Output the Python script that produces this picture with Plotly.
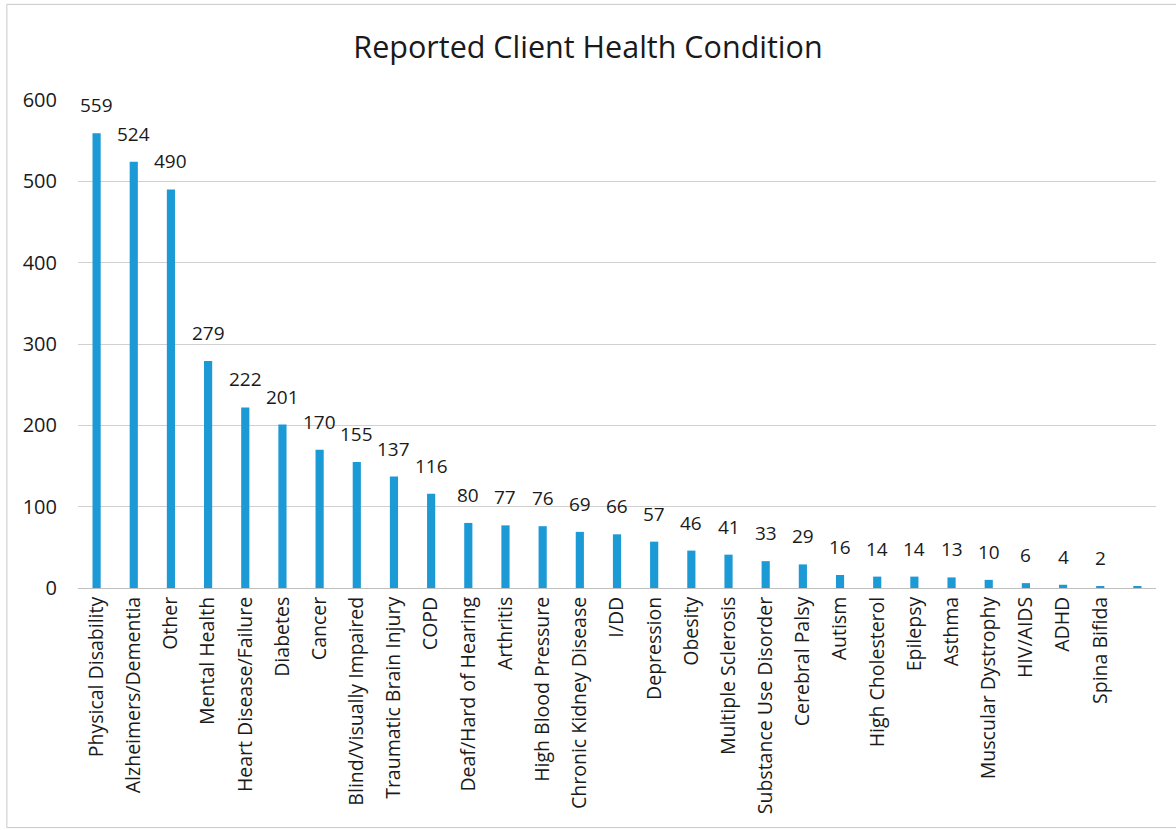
import plotly.graph_objects as go

# Reported client health conditions, sorted by count
conditions = [
    "Physical Disability", "Alzheimers/Dementia", "Other", "Mental Health",
    "Heart Disease/Failure", "Diabetes", "Cancer", "Blind/Visually Impaired",
    "Traumatic Brain Injury", "COPD", "Deaf/Hard of Hearing", "Arthritis",
    "High Blood Pressure", "Chronic Kidney Disease", "I/DD", "Depression",
    "Obesity", "Multiple Sclerosis", "Substance Use Disorder", "Cerebral Palsy",
    "Autism", "High Cholesterol", "Epilepsy", "Asthma", "Muscular Dystrophy",
    "HIV/AIDS", "ADHD", "Spina Bifida", " ",
]
counts = [
    559, 524, 490, 279, 222, 201, 170, 155, 137, 116, 80, 77, 76, 69, 66, 57,
    46, 41, 33, 29, 16, 14, 14, 13, 10, 6, 4, 2, 2,
]
# the final, unnamed category carries no data label
labels = [str(v) for v in counts[:-1]] + [""]

y_ticks = [0, 100, 200, 300, 400, 500, 600]

FONT = "Open Sans, Noto Sans, sans-serif"
TEXT = "#1a1a1a"

fig = go.Figure(
    go.Bar(
        x=conditions,
        y=counts,
        marker=dict(color="#1c9ad6", line=dict(width=0)),
        hoverinfo="x+y",
    )
)

# value labels floating above each bar
annotations = [
    dict(x=c, y=v, xref="x", yref="y", text=t, showarrow=False,
         yanchor="middle", yshift=28,
         font=dict(family=FONT, size=19, color=TEXT))
    for c, v, t in zip(conditions, counts, labels) if t
]

fig.update_layout(
    width=1176,
    height=830,
    paper_bgcolor="white",
    plot_bgcolor="white",
    margin=dict(l=78, r=20, t=100, b=242),
    bargap=0.78,
    showlegend=False,
    annotations=annotations,
    title=dict(
        text="Reported Client Health Condition",
        x=0.5,
        xanchor="center",
        y=0.943,
        yanchor="middle",
        font=dict(family=FONT, size=30.5, color="#1a1a1a"),
    ),
    shapes=[
        # outer chart frame
        dict(type="rect", xref="paper", yref="paper",
             x0=-0.066, x1=1.1, y0=-0.491, y1=1.196,
             line=dict(color="#c8c8c8", width=1), layer="below"),
    ],
)

fig.update_xaxes(
    type="category",
    tickangle=-90,
    tickfont=dict(family=FONT, size=19.5, color=TEXT),
    showgrid=False,
    showline=True,
    linecolor="#bfbfbf",
    linewidth=1,
    ticks="",
)
fig.update_yaxes(
    range=[0, 600],
    tickvals=y_ticks,
    ticktext=[str(t) for t in y_ticks],
    tickfont=dict(family=FONT, size=20, color=TEXT),
    showgrid=True,
    gridcolor="#d0d0d0",
    gridwidth=1,
    zeroline=False,
    showline=False,
    ticks="",
    ticklabelstandoff=20,
)

fig.write_html("out.html")
